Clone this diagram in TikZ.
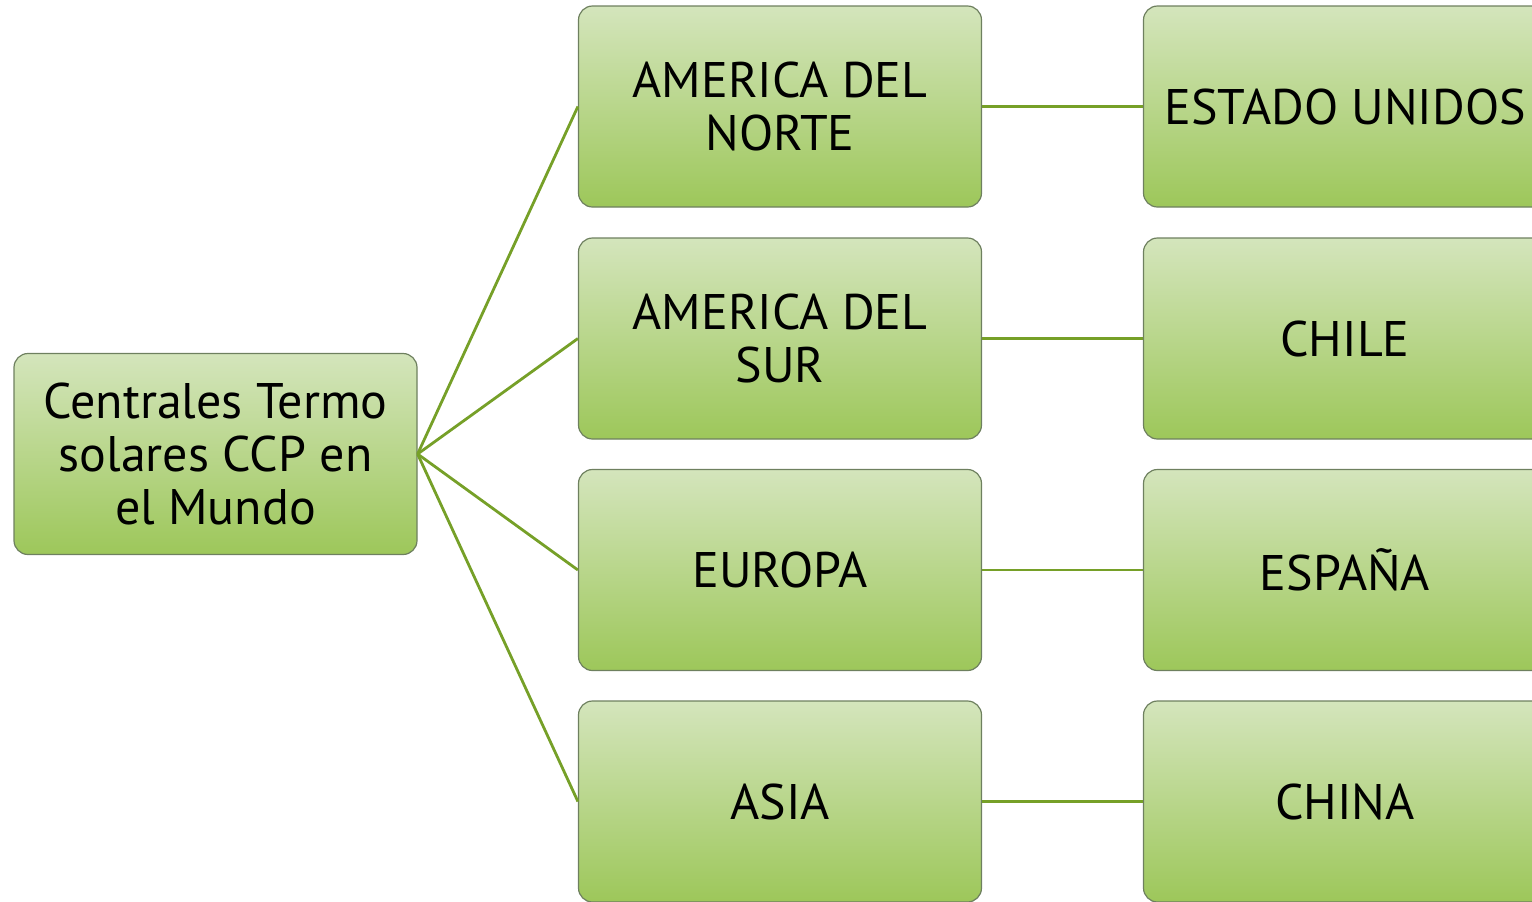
\documentclass[tikz,border=0pt]{standalone}
\usepackage{fontspec}
\setmainfont{PT Sans}
\definecolor{boxtop}{RGB}{212,229,188}
\definecolor{boxbot}{RGB}{157,199,90}
\definecolor{boxline}{RGB}{110,128,95}
\definecolor{linkgreen}{RGB}{118,160,40}
\begin{document}
\begin{tikzpicture}[x=0.5pt,y=-0.5pt,
  box/.style={draw=boxline,line width=0.6pt,rounded corners=7pt,
    top color=boxtop,bottom color=boxbot,minimum width=201.5pt,
    minimum height=100.5pt,inner sep=0pt,align=center,
    font=\fontsize{25}{26.5}\selectfont},
  link/.style={draw=linkgreen,line width=1.4pt}]
  \useasboundingbox (0,0) rectangle (1532,901);
  % links first, boxes on top
  \node[box] (mundo) at (215.5,454) {Centrales Termo\\solares CCP en\\el Mundo};
  \node[box] (norte) at (780,106.5) {AMERICA DEL\\NORTE};
  \node[box] (sur) at (780,338.5) {AMERICA DEL\\SUR};
  \node[box] (europa) at (780,570) {EUROPA};
  \node[box] (asia) at (780,801.5) {ASIA};
  \node[box] (eeuu) at (1345,106.5) {ESTADO UNIDOS};
  \node[box] (chile) at (1345,338.5) {CHILE};
  \node[box] (espana) at (1345,570) {ESPAÑA};
  \node[box] (china) at (1345,801.5) {CHINA};
  \foreach \r/\p in {norte/eeuu,sur/chile,europa/espana,asia/china}{
    \draw[link] (mundo.east) -- (\r.west);
    \draw[link] (\r.east) -- (\p.west);
  }
\end{tikzpicture}
\end{document}
